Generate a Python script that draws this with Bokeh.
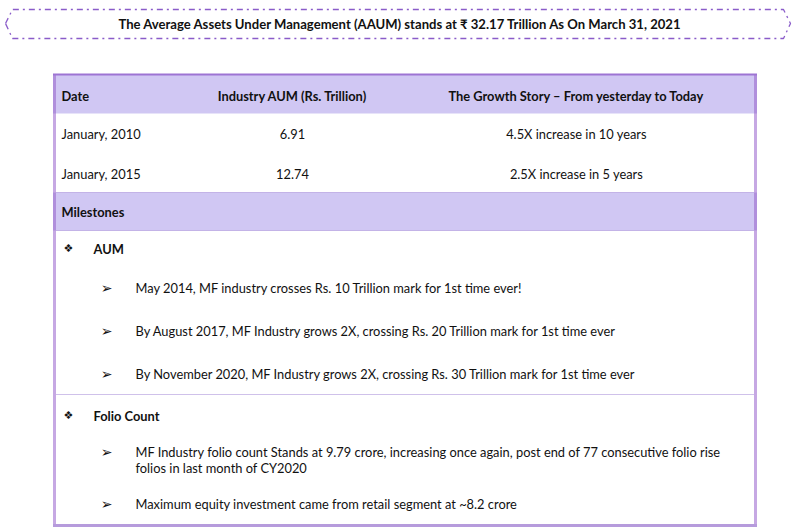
from bokeh.plotting import figure
from bokeh.models import Range1d
from bokeh.core.properties import value
from bokeh.embed import file_html
from bokeh.resources import INLINE

# ---- content ----
title_text = "The Average Assets Under Management (AAUM) stands at \u20b9 32.17 Trillion As On March 31, 2021"
col_headers = ["Date", "Industry AUM (Rs. Trillion)", "The Growth Story \u2013 From yesterday to Today"]
dates = ["January, 2010", "January, 2015"]
aum_values = [6.91, 12.74]
growth = ["4.5X increase in 10 years", "2.5X increase in 5 years"]
section_label = "Milestones"
group_labels = ["AUM", "Folio Count"]
aum_points = [
    "May 2014, MF industry crosses Rs. 10 Trillion mark for 1st time ever!",
    "By August 2017, MF Industry grows 2X, crossing Rs. 20 Trillion mark for 1st time ever",
    "By November 2020, MF Industry grows 2X, crossing Rs. 30 Trillion mark for 1st time ever",
]
folio_points = [
    "MF Industry folio count Stands at 9.79 crore, increasing once again, post end of 77 consecutive folio rise\nfolios in last month of CY2020",
    "Maximum equity investment came from retail segment at ~8.2 crore",
]

# ---- style ----
FONT = "Lato"
BODY = "12.85px"
TXT = "#111111"
HEAD_FILL = "#d0c7f3"
BORDER_DARK = "#9d74d3"
BORDER_LIGHT = "#c6a8e3"
DOT = "#9f82d4"

W, H = 810, 532
p = figure(width=W, height=H, output_backend="svg", toolbar_location=None,
           x_range=Range1d(0, W), y_range=Range1d(H, 0),
           min_border=0, outline_line_color=None)
p.axis.visible = False
p.grid.visible = False
p.background_fill_color = "white"
p.border_fill_color = "white"


def txt(xs, ys, texts, bold=False, align="left", size=BODY, font=FONT):
    p.text(xs, ys, text=texts, text_font=value(font),
           text_font_style="bold" if bold else "normal", text_font_size=size,
           text_align=align, text_baseline="middle", text_color=TXT)


# title box (dash-dot hexagon)
tx = [5, 12, 783, 790, 783, 12, 5]
ty = [23, 9, 9, 23, 38, 38, 23]
p.line(tx, ty, line_color="#8a5cc9", line_width=1.3, line_dash="dashdot")
txt([400], [23], [title_text], bold=True, align="center", size="13.1px")

# table frame geometry
L, R = 54, 755
TOP, BOT = 74, 525
p.quad(left=[L, L], right=[R, R], top=[TOP, 192], bottom=[113, 230],
       fill_color=HEAD_FILL, line_color=None)

# dotted separators
for yy in [192, 230, 394]:
    p.line([L, R], [yy, yy], line_color=DOT, line_width=1, line_dash="1 1")

# borders
p.line([L, L], [TOP, BOT], line_color=BORDER_LIGHT, line_width=3)
p.line([R, R], [TOP, BOT], line_color=BORDER_LIGHT, line_width=3)
for a, b in [(TOP, 113), (192, 230)]:
    p.line([L, L], [a, b], line_color="#b08fdc", line_width=3)
    p.line([R, R], [a, b], line_color="#b08fdc", line_width=3)
p.line([L - 1.5, R + 1.5], [TOP, TOP], line_color=BORDER_DARK, line_width=2)
p.line([L - 1.5, R + 1.5], [BOT, BOT], line_color="#b69bdc", line_width=3)

# header row
col_x = [61, 292, 576]
col_align = ["left", "center", "center"]
for cx, al, t in zip(col_x, col_align, col_headers):
    txt([cx], [95], [t], bold=True, align=al)

# data rows
row_y = [133, 173]
txt([col_x[0]] * 2, row_y, dates)
txt([col_x[1]] * 2, row_y, [f"{v:.2f}" for v in aum_values], align="center")
txt([col_x[2]] * 2, row_y, growth, align="center")

# milestones header
txt([61], [211], [section_label], bold=True)

# groups
group_y = [248, 415]
txt([68] * 2, group_y, ["\u2756"] * 2, align="center", size="11px", font="DejaVu Sans")
txt([93] * 2, group_y, group_labels, bold=True)

# bullet points
pts = aum_points + folio_points
pts_y = [287, 330, 373, 451, 503]
txt([106] * len(pts), pts_y, ["\u27a2"] * len(pts), bold=True, align="center",
    size="14px", font="DejaVu Sans")
line_x, line_y, line_t = [], [], []
for item, yy in zip(pts, pts_y):
    for i, ln in enumerate(item.split("\n")):
        line_x.append(135)
        line_y.append(yy + 16 * i)
        line_t.append(ln)
txt(line_x, line_y, line_t)

open("out.html", "w").write(file_html(p, INLINE))
